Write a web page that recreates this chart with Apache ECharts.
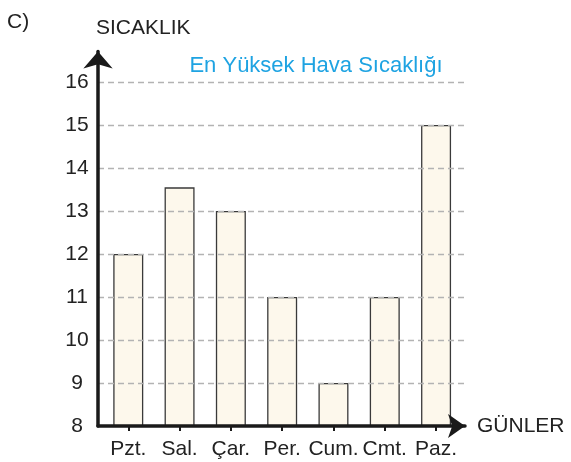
<!DOCTYPE html>
<html>
<head>
<meta charset="utf-8">
<script src="https://cdn.jsdelivr.net/npm/echarts@6/dist/echarts.min.js"></script>
<style>
  html, body { margin: 0; padding: 0; background: #fff; }
  #chart { width: 571px; height: 462px; }
</style>
</head>
<body>
<div id="chart"></div>
<script>
// Daily highest temperatures for one week
const days = ['Pzt.', 'Sal.', 'Çar.', 'Per.', 'Cum.', 'Cmt.', 'Paz.'];
const temps = [12, 13.55, 13, 11, 9, 11, 15];
const yTicks = [8, 9, 10, 11, 12, 13, 14, 15, 16];

const FONT = '"Liberation Sans", Arial, sans-serif';
const dayIdx = days.map((d, i) => i);

const chart = echarts.init(document.getElementById('chart'), null, { renderer: 'canvas' });

chart.setOption({
  animation: false,
  backgroundColor: '#ffffff',
  textStyle: { fontFamily: FONT },
  graphic: [
    { type: 'text', left: 7, top: 12, style: { text: 'C)', fontSize: 21, fontFamily: FONT, fill: '#222' } },
    { type: 'text', left: 96, top: 18, style: { text: 'SICAKLIK', fontSize: 21, fontFamily: FONT, fill: '#222' } }
  ],
  title: {
    text: 'En Yüksek Hava Sıcaklığı',
    left: 311,
    textAlign: 'center',
    top: 50,
    textStyle: { color: '#1ea3e2', fontSize: 22, fontWeight: 'normal', fontFamily: FONT }
  },
  grid: { left: 98, right: 106, top: 51.5, bottom: 36, containLabel: false },
  xAxis: {
    type: 'value',
    min: -0.59,
    max: 6.564,
    z: 5,
    splitLine: { show: false },
    axisLine: {
      show: true,
      onZero: false,
      symbol: ['none', 'arrow'],
      symbolSize: [18, 17],
      lineStyle: { color: '#1a1a1a', width: 3.5 }
    },
    axisTick: {
      show: true,
      customValues: dayIdx,
      length: 5,
      lineStyle: { color: '#1a1a1a', width: 2 }
    },
    axisLabel: {
      customValues: dayIdx,
      formatter: v => days[Math.round(v)],
      margin: 13,
      fontSize: 21,
      color: '#222',
      fontFamily: FONT
    },
    name: 'GÜNLER',
    nameLocation: 'end',
    nameGap: 12,
    nameTextStyle: { fontSize: 21, color: '#222', fontFamily: FONT, verticalAlign: 'middle', padding: [2, 0, 0, 0] }
  },
  yAxis: {
    type: 'value',
    min: 8,
    max: 16.71,
    interval: 1,
    z: 5,
    axisLine: {
      show: true,
      onZero: false,
      symbol: ['none', 'arrow'],
      symbolSize: [22, 17],
      lineStyle: { color: '#1a1a1a', width: 3.5 }
    },
    axisTick: { show: false },
    axisLabel: {
      showMaxLabel: false,
      formatter: v => (yTicks.includes(v) ? String(v) : ''),
      margin: 21,
      align: 'center',
      fontSize: 21,
      color: '#222',
      fontFamily: FONT
    },
    splitLine: {
      show: true,
      showMinLine: false,
      showMaxLine: false,
      lineStyle: { color: '#b3b3b3', width: 1.3, type: [6, 4] }
    }
  },
  series: [{
    type: 'bar',
    data: temps.map((t, i) => [i, t]),
    barWidth: 30,
    itemStyle: { color: '#fdf8ec', borderColor: '#3a3a3a', borderWidth: 1.3 },
    z: 1
  }]
});
</script>
</body>
</html>
